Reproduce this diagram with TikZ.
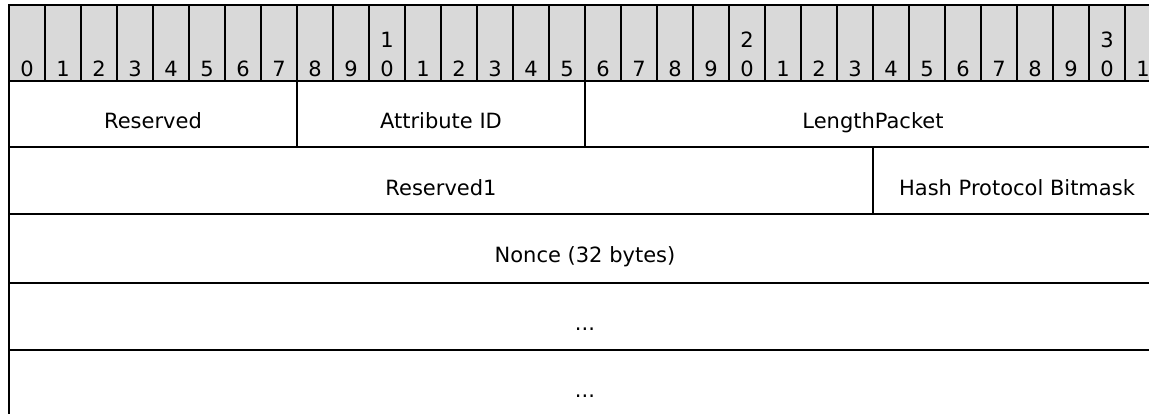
\documentclass[tikz,border=0pt]{standalone}
\usepackage{fontspec}
\setmainfont{DejaVu Sans}
\definecolor{hdrgray}{HTML}{D9D9D9}
\begin{document}
\begin{tikzpicture}[x=1pt,y=-1pt,
  hdrcell/.style={fill=hdrgray, draw=black, line width=1.3pt},
  fieldbox/.style={draw=black, line width=2pt},
  lbl/.style={anchor=base, inner sep=0pt, font=\fontsize{21}{25}\selectfont},
  bitlbl/.style={anchor=base, inner sep=0pt, font=\fontsize{21}{25}\selectfont}]
\useasboundingbox (0,0) rectangle (1149,414);
\fill[white] (0,0) rectangle (1149,414);
\clip (0,0) rectangle (1149,414);
% header
\foreach \i in {0,...,31} {
  \pgfmathsetmacro\xa{9+36*\i}
  \pgfmathsetmacro\xb{\xa+36}
  \pgfmathsetmacro\xc{\xa+18}
  \pgfmathtruncatemacro\ones{mod(\i,10)}
  \pgfmathtruncatemacro\tens{int(\i/10)}
  \draw[hdrcell] (\xa,5) rectangle (\xb,81);
  \node[bitlbl] (b\i) at (\xc,77) {\ones};
  \ifnum\ones=0 \ifnum\i>0
    \node[bitlbl] (bt\i) at (\xc,48) {\tens};
  \fi\fi
}
% row 1
\draw[fieldbox] (9,81) rectangle (297,147.5);
\draw[fieldbox] (297,81) rectangle (585,147.5);
\draw[fieldbox] (585,81) rectangle (1161,147.5);
\node[lbl] (reserved) at (153,128.5) {Reserved};
\node[lbl] (attrid) at (441,128.5) {Attribute ID};
\node[lbl] (lenpkt) at (873,128.5) {LengthPacket};
% row 2
\draw[fieldbox] (9,147.5) rectangle (873,214.5);
\draw[fieldbox] (873,147.5) rectangle (1161,214.5);
\node[lbl] (reserved1) at (441,195.5) {Reserved1};
\node[lbl] (hashbm) at (1017,195.5) {Hash Protocol Bitmask};
% row 3
\draw[fieldbox] (9,214.5) rectangle (1161,283);
\node[lbl] (nonce) at (585,263) {Nonce (32 bytes)};
% row 4
\draw[fieldbox] (9,283) rectangle (1161,350);
\node[lbl] (dots1) at (585,330) {...};
% row 5
\draw[fieldbox] (9,350) rectangle (1161,417);
\node[lbl] (dots2) at (585,397) {...};
\end{tikzpicture}
\end{document}
